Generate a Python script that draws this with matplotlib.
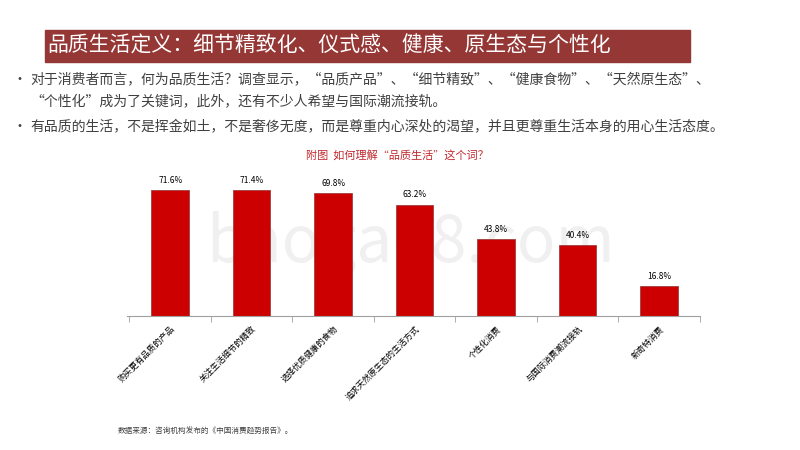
import matplotlib.pyplot as plt
from matplotlib.patches import Rectangle

plt.rcParams['font.family'] = ['Noto Sans CJK SC', 'DejaVu Sans']

categories = ['购买更有品质的产品', '关注生活细节的精致', '选择优质健康的食物',
              '追求天然原生态的生活方式', '个性化消费', '与国际消费潮流接轨', '新奇特消费']
values = [71.6, 71.4, 69.8, 63.2, 43.8, 40.4, 16.8]

fig = plt.figure(figsize=(8, 4.5), dpi=100)

# header band
fig.patches.append(Rectangle((45/800, 1-62/450), 645/800, 32/450,
                             transform=fig.transFigure, color='#953735', zorder=0))
fig.text(47/800, 1-46/450, '品质生活定义：细节精致化、仪式感、健康、原生态与个性化',
         color='white', fontsize=15, va='center')

fig.text(12/800, 1-80/450, '•', fontsize=10, color='#404040', va='center')
fig.text(30/800, 1-80/450, '对于消费者而言，何为品质生活？调查显示，“品质产品”、“细节精致”、“健康食物”、“天然原生态”、',
         fontsize=10, color='#404040', va='center')
fig.text(30/800, 1-102/450, '“个性化”成为了关键词，此外，还有不少人希望与国际潮流接轨。',
         fontsize=10, color='#404040', va='center')
fig.text(12/800, 1-127/450, '•', fontsize=10, color='#404040', va='center')
fig.text(30/800, 1-127/450, '有品质的生活，不是挥金如土，不是奢侈无度，而是尊重内心深处的渴望，并且更尊重生活本身的用心生活态度。',
         fontsize=10, color='#404040', va='center')
fig.text(397/800, 1-155/450, '附图  如何理解“品质生活”这个词？', fontsize=8, color='#c0282d',
         ha='center', va='center')

# watermark, behind the chart
fig.text(410/800, 1-245/450, 'baogao8.com', fontsize=46, color='#f0f0f0',
         ha='center', va='center', zorder=-1)

ax = fig.add_axes([127/800, 1-316/450, 573/800, 156/450])
ax.patch.set_alpha(0)
x = range(len(categories))
ax.bar(x, values, width=0.46, color='#cc0000', edgecolor='#a04040', linewidth=0.6)
for xi, v in zip(x, values):
    ax.text(xi, v + 3, f'{v}%', ha='center', va='bottom', fontsize=6)
ax.set_xlim(-0.53, 6.5)
ax.set_ylim(0, 88.6)
ax.set_yticks([])
for s in ['top', 'right', 'left']:
    ax.spines[s].set_visible(False)
ax.spines['bottom'].set_color('#a0a0a0')
ax.set_xticks([i - 0.5 for i in range(8)], minor=True)
ax.tick_params(axis='x', which='minor', length=4, color='#a0a0a0')
ax.set_xticks(list(x))
ax.set_xticklabels(categories, rotation=45, ha='right', rotation_mode='anchor', fontsize=6)
ax.tick_params(axis='x', which='major', length=0, pad=6)

fig.text(118/800, 1-432/450, '数据来源：咨询机构发布的《中国消费趋势报告》。', fontsize=5.5,
         color='#404040', va='center')

fig.savefig('out.png', dpi=100)
